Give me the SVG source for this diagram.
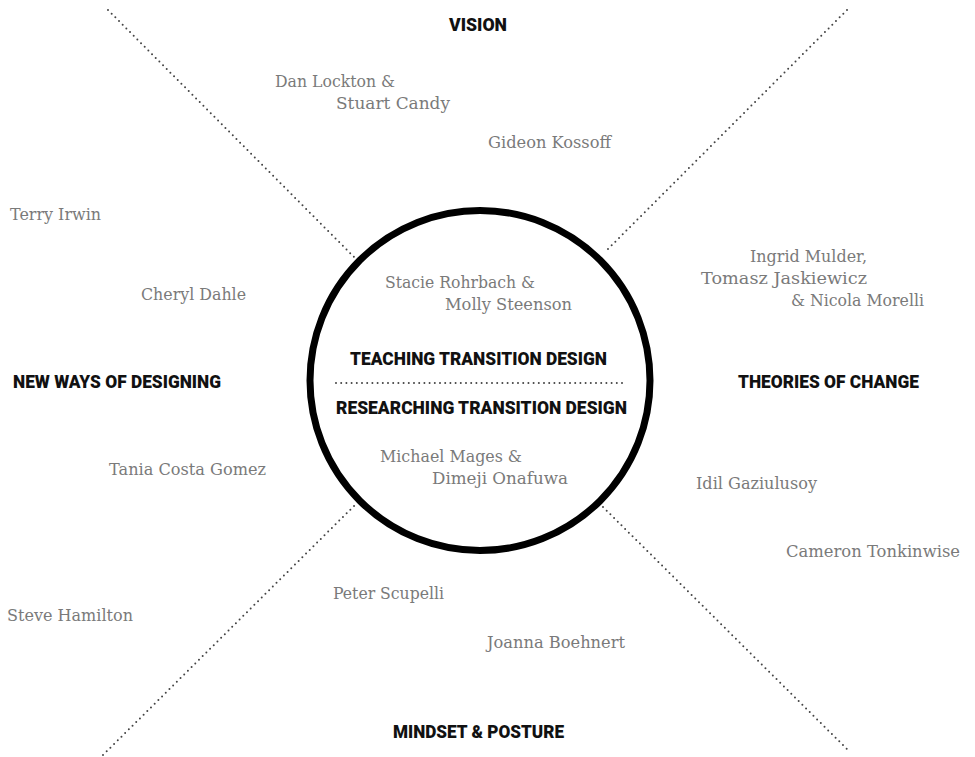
<svg xmlns="http://www.w3.org/2000/svg" width="975" height="757" viewBox="0 0 975 757">
<style>
.dot{stroke:#444;stroke-width:2;stroke-linecap:round;stroke-dasharray:0 5.2;fill:none}
.name{font-family:"DejaVu Serif","Liberation Serif",serif;font-size:16.5px;fill:#7a7a7a}
.head{font-family:Roboto,"Liberation Sans",sans-serif;font-weight:900;font-size:18px;fill:#111}
</style>
<rect width="975" height="757" fill="#fff"/>
<g id="connectors">
<line class="dot" x1="108" y1="10" x2="355" y2="258"/>
<line class="dot" x1="847" y1="10" x2="606" y2="251"/>
<line class="dot" x1="103" y1="755" x2="355" y2="505"/>
<line class="dot" x1="603" y1="507" x2="850" y2="752"/>
<line class="dot" x1="336" y1="383" x2="626" y2="383"/>
</g>
<g id="center">
<circle cx="480" cy="380.5" r="170" fill="none" stroke="#000" stroke-width="7"/>
<text class="head" x="350" y="365" textLength="257" lengthAdjust="spacingAndGlyphs">TEACHING TRANSITION DESIGN</text>
<text class="head" x="336" y="414" textLength="291" lengthAdjust="spacingAndGlyphs">RESEARCHING TRANSITION DESIGN</text>
</g>
<g id="headings">
<text class="head" x="449" y="31" textLength="58" lengthAdjust="spacingAndGlyphs">VISION</text>
<text class="head" x="13" y="388" textLength="208" lengthAdjust="spacingAndGlyphs">NEW WAYS OF DESIGNING</text>
<text class="head" x="738" y="388" textLength="181" lengthAdjust="spacingAndGlyphs">THEORIES OF CHANGE</text>
<text class="head" x="393" y="738" textLength="171" lengthAdjust="spacingAndGlyphs">MINDSET &amp; POSTURE</text>
</g>
<g id="names">
<text class="name" x="275" y="87" textLength="120" lengthAdjust="spacingAndGlyphs">Dan Lockton &amp;</text>
<text class="name" x="336" y="109" textLength="114" lengthAdjust="spacingAndGlyphs">Stuart Candy</text>
<text class="name" x="488" y="148" textLength="123" lengthAdjust="spacingAndGlyphs">Gideon Kossoff</text>
<text class="name" x="10" y="220" textLength="91" lengthAdjust="spacingAndGlyphs">Terry Irwin</text>
<text class="name" x="141" y="300" textLength="105" lengthAdjust="spacingAndGlyphs">Cheryl Dahle</text>
<text class="name" x="385" y="288" textLength="150" lengthAdjust="spacingAndGlyphs">Stacie Rohrbach &amp;</text>
<text class="name" x="445" y="310" textLength="127" lengthAdjust="spacingAndGlyphs">Molly Steenson</text>
<text class="name" x="750" y="262" textLength="117" lengthAdjust="spacingAndGlyphs">Ingrid Mulder,</text>
<text class="name" x="701" y="284" textLength="166" lengthAdjust="spacingAndGlyphs">Tomasz Jaskiewicz</text>
<text class="name" x="791" y="306" textLength="133" lengthAdjust="spacingAndGlyphs">&amp; Nicola Morelli</text>
<text class="name" x="380" y="462" textLength="142" lengthAdjust="spacingAndGlyphs">Michael Mages &amp;</text>
<text class="name" x="432" y="484" textLength="136" lengthAdjust="spacingAndGlyphs">Dimeji Onafuwa</text>
<text class="name" x="109" y="475" textLength="157" lengthAdjust="spacingAndGlyphs">Tania Costa Gomez</text>
<text class="name" x="696" y="489" textLength="121" lengthAdjust="spacingAndGlyphs">Idil Gaziulusoy</text>
<text class="name" x="786" y="557" textLength="174" lengthAdjust="spacingAndGlyphs">Cameron Tonkinwise</text>
<text class="name" x="333" y="599" textLength="111" lengthAdjust="spacingAndGlyphs">Peter Scupelli</text>
<text class="name" x="7" y="621" textLength="126" lengthAdjust="spacingAndGlyphs">Steve Hamilton</text>
<text class="name" x="487" y="648" textLength="138" lengthAdjust="spacingAndGlyphs">Joanna Boehnert</text>
</g>
</svg>
